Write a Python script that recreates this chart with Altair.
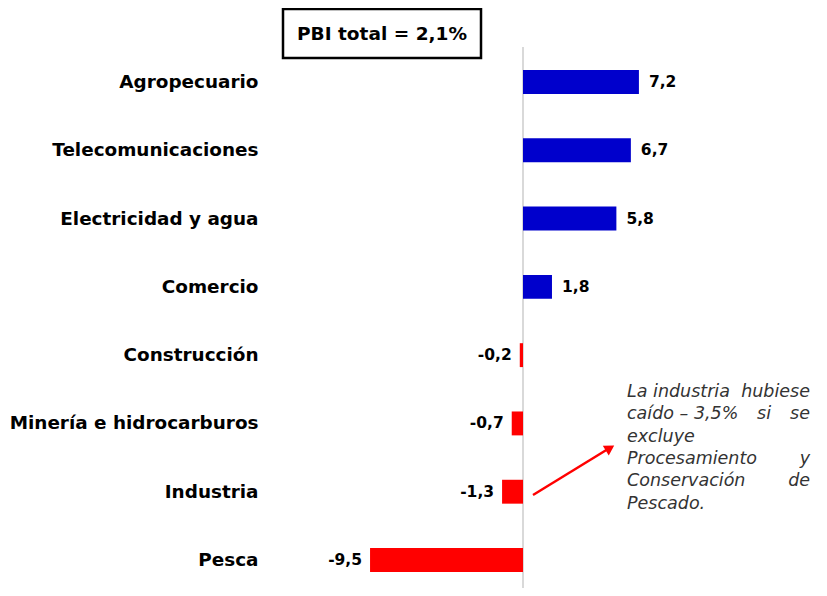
import altair as alt
import pandas as pd

categories = ["Agropecuario", "Telecomunicaciones", "Electricidad y agua", "Comercio",
              "Construcción", "Minería e hidrocarburos", "Industria", "Pesca"]
values = [7.2, 6.7, 5.8, 1.8, -0.2, -0.7, -1.3, -9.5]
title_text = "PBI total = 2,1%"
note_lines = [("La industria", "", "hubiese"), ("caído – 3,5%", "si", "se"), ("excluye", "", ""),
              ("Procesamiento", "", "y"), ("Conservación", "", "de"), ("Pescado.", "", "")]

FONT = "DejaVu Sans"
BLUE = "#0000CC"
RED = "#FF0000"
W, H = 549, 534

df = pd.DataFrame({"cat": categories, "value": values})
df["sign"] = ["pos" if v >= 0 else "neg" for v in values]

xscale = alt.Scale(domain=[-15.714, 18.385], nice=False, zero=False)
yenc = alt.Y("cat:N", sort=categories,
             scale=alt.Scale(paddingInner=0.65, paddingOuter=0.235),
             axis=alt.Axis(title=None, ticks=False, domain=False, grid=False,
                           labelFont=FONT, labelFontSize=18.4, labelFontWeight="bold",
                           labelColor="black", labelPadding=12, labelLimit=400))

base = alt.Chart(df)

zero = alt.Chart(pd.DataFrame({"z": [0]})).mark_rule(color="#d9d9d9", strokeWidth=2).encode(
    x=alt.X("z:Q", scale=xscale, axis=None), y=alt.value(-7), y2=alt.value(H + 10))

bars = base.mark_bar().encode(
    x=alt.X("value:Q", scale=xscale, axis=None),
    y=yenc,
    color=alt.Color("sign:N", scale=alt.Scale(domain=["pos", "neg"], range=[BLUE, RED]), legend=None),
)

lab = base.transform_calculate(
    lbl="replace(replace(format(datum.value, '.1f'), '.', ','), '\u2212', '-')")
pos_lab = lab.transform_filter("datum.value >= 0").mark_text(
    align="left", dx=10, font=FONT, fontSize=15.5, fontWeight="bold", color="black").encode(
    x=alt.X("value:Q", scale=xscale, axis=None), y=alt.Y("cat:N", sort=categories), text="lbl:N")
neg_lab = lab.transform_filter("datum.value < 0").mark_text(
    align="right", dx=-8, font=FONT, fontSize=15.5, fontWeight="bold", color="black").encode(
    x=alt.X("value:Q", scale=xscale, axis=None), y=alt.Y("cat:N", sort=categories), text="lbl:N")

one = pd.DataFrame({"a": [0]})
box = alt.Chart(one).mark_rect(fill="white", stroke="black", strokeWidth=2.5).encode(
    x=alt.value(13), x2=alt.value(211), y=alt.value(-45), y2=alt.value(4))
box_txt = alt.Chart(pd.DataFrame({"t": [title_text]})).mark_text(
    font=FONT, fontSize=18.5, fontWeight="bold", color="black", baseline="middle").encode(
    x=alt.value(112), y=alt.value(-20), text="t:N")

arrow = alt.Chart(one).mark_rule(color=RED, strokeWidth=2.5).encode(
    x=alt.value(263), y=alt.value(441), x2=alt.value(338), y2=alt.value(395))
head = alt.Chart(one).mark_point(shape="triangle-up", filled=True, color=RED, size=130,
                                 angle=58.6, opacity=1).encode(
    x=alt.value(340), y=alt.value(394))

note_layers = []
for i, (left, mid, right) in enumerate(note_lines):
    yy = 338 + i * 22.3
    for txt, al, xx in ((left, "left", 357), (mid, "center", 494), (right, "right", 540)):
        if txt:
            note_layers.append(alt.Chart(pd.DataFrame({"t": [txt]})).mark_text(
                align=al, baseline="middle", font=FONT, fontSize=17.5, fontStyle="italic",
                color="#333333").encode(x=alt.value(xx), y=alt.value(yy), text="t:N"))

chart = alt.layer(zero, bars, pos_lab, neg_lab, box, box_txt, arrow, head, *note_layers).properties(
    width=W, height=H,
    autosize=alt.AutoSizeParams(type="none"),
    padding={"left": 262, "top": 46, "right": 0, "bottom": 0},
).configure_view(stroke=None)

chart.save("out.html", embed_options={"renderer": "svg", "actions": False})
